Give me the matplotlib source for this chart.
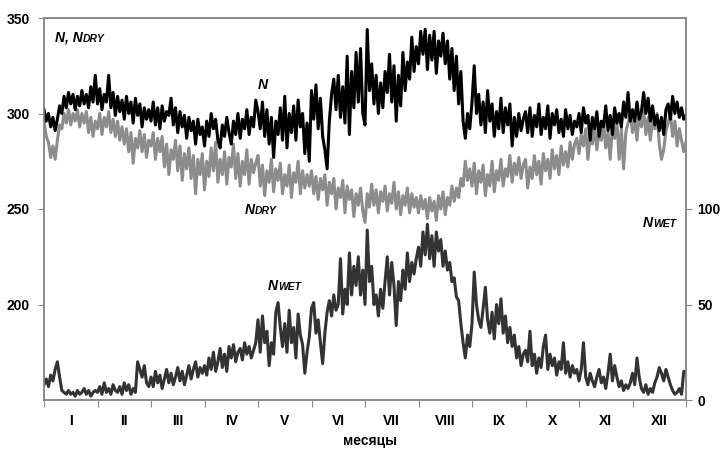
import matplotlib
matplotlib.use("Agg")
import matplotlib.pyplot as plt
import numpy as np

plt.rcParams['font.family'] = ['Liberation Sans', 'DejaVu Sans']
plt.rcParams['font.weight'] = 'bold'

# Roman month labels
months = ["I", "II", "III", "IV", "V", "VI", "VII", "VIII", "IX", "X", "XI", "XII"]

# N (total), left axis; 24 readings per month (Jan..Dec) + end point
n_total = [
    302, 296, 300, 293, 298, 291, 297, 304, 300, 309, 303, 311, 305, 310, 302, 309, 304, 312, 305, 310, 303, 314, 306, 320,
    305, 313, 302, 310, 306, 320, 303, 311, 299, 309, 301, 307, 297, 309, 300, 306, 295, 308, 299, 305, 293, 303, 297, 302,
    296, 306, 294, 303, 292, 304, 296, 301, 299, 308, 294, 303, 290, 301, 293, 299, 287, 298, 291, 296, 284, 297, 289, 293,
    283, 296, 288, 300, 292, 297, 286, 282, 294, 288, 298, 290, 284, 296, 289, 300, 287, 297, 292, 302, 289, 298, 293, 307,
    301, 292, 306, 288, 302, 284, 298, 277, 296, 289, 303, 286, 309, 282, 300, 290, 304, 286, 307, 293, 300, 279, 295, 275,
    312, 297, 315, 292, 308, 288, 281, 271, 296, 310, 318, 302, 320, 298, 314, 295, 330, 289, 322, 303, 332, 306, 334, 300,
    294, 344, 312, 326, 305, 320, 300, 316, 303, 322, 311, 331, 306, 325, 296, 320, 304, 332, 312, 327, 318, 340, 322, 335,
    326, 343, 331, 344, 323, 341, 328, 343, 321, 338, 330, 342, 326, 338, 318, 334, 312, 330, 305, 322, 296, 287, 300, 292,
    306, 325, 300, 310, 294, 306, 290, 312, 296, 305, 288, 301, 292, 308, 290, 303, 294, 305, 283, 298, 288, 300, 291, 297,
    301, 290, 303, 288, 299, 293, 305, 289, 298, 292, 304, 287, 300, 294, 302, 290, 297, 288, 302, 292, 299, 289, 296, 293,
    300, 290, 303, 295, 299, 286, 298, 292, 301, 288, 296, 293, 304, 291, 299, 289, 303, 295, 300, 293, 306, 298, 311, 296,
    302, 296, 306, 297, 301, 311, 300, 308, 296, 304, 294, 299, 291, 298, 289, 302, 305, 297, 309, 300, 306, 298, 303, 297,
    299,
]

# N dry, left axis
n_dry = [
    296, 288, 285, 277, 283, 276, 286, 294, 292, 300, 295, 302, 294, 300, 296, 302, 293, 300, 295, 301, 290, 298, 288, 296,
    292, 300, 289, 298, 293, 301, 290, 297, 288, 296, 286, 293, 284, 292, 280, 290, 274, 287, 282, 291, 280, 289, 277, 286,
    283, 290, 276, 287, 280, 288, 272, 284, 268, 281, 276, 286, 270, 283, 265, 279, 271, 282, 266, 278, 258, 276, 268, 279,
    260, 275, 267, 282, 270, 285, 264, 276, 268, 280, 263, 277, 272, 284, 266, 279, 262, 275, 268, 281, 263, 276, 269, 274,
    278, 262, 273, 257, 270, 264, 276, 259, 271, 265, 274, 258, 268, 262, 273, 256, 269, 264, 275, 258, 270, 261, 268, 262,
    270, 258, 267, 255, 266, 260, 268, 252, 264, 258, 266, 250, 261, 256, 265, 248, 262, 255, 260, 246, 258, 252, 261, 249,
    243, 258, 251, 263, 252, 260, 248, 259, 254, 262, 249, 258, 253, 264, 250, 259, 247, 257, 252, 261, 248, 258, 251, 256,
    248, 257, 250, 255, 245, 256, 249, 254, 244, 257, 250, 259, 247, 256, 252, 262, 254, 261, 256, 266, 262, 275, 265, 271,
    262, 274, 258, 270, 264, 273, 257, 268, 262, 275, 259, 270, 265, 276, 262, 271, 267, 278, 264, 274, 268, 277, 266, 273,
    276, 261, 272, 266, 278, 268, 275, 263, 279, 270, 276, 266, 281, 271, 278, 268, 283, 273, 280, 272, 285, 276, 284, 287,
    279, 289, 283, 292, 276, 288, 284, 293, 281, 291, 286, 295, 282, 290, 276, 294, 287, 296, 276, 292, 271, 290, 295, 300,
    290, 298, 286, 300, 293, 302, 289, 298, 286, 297, 292, 300, 284, 276, 281, 291, 295, 300, 288, 296, 283, 292, 286, 280,
    285,
]

# N wet, right axis
n_wet = [
    8, 11, 7, 13, 10, 16, 20, 12, 5, 4, 3, 5, 3, 4, 2, 5, 3, 4, 6, 3, 5, 2, 4, 5,
    4, 7, 3, 9, 4, 6, 3, 8, 5, 4, 7, 3, 9, 5, 8, 3, 6, 4, 20, 16, 12, 18, 9, 7,
    12, 7, 15, 9, 13, 6, 11, 16, 9, 14, 8, 12, 17, 10, 15, 8, 13, 18, 11, 16, 20, 12, 17, 14,
    18, 13, 22, 16, 25, 15, 20, 27, 17, 24, 15, 28, 22, 29, 20, 25, 27, 21, 30, 24, 28, 22, 26, 30,
    42, 25, 44, 30, 36, 18, 30, 24, 46, 51, 38, 28, 40, 25, 47, 30, 38, 22, 45, 34, 29, 14, 25, 33,
    48, 51, 35, 42, 30, 19, 35, 46, 52, 44, 55, 47, 50, 74, 45, 58, 50, 77, 55, 70, 60, 75, 55, 68,
    50, 89, 62, 70, 50, 55, 44, 58, 48, 62, 75, 55, 72, 60, 39, 62, 52, 68, 58, 77, 62, 72, 66, 74,
    80, 70, 88, 76, 92, 74, 86, 70, 88, 78, 84, 70, 78, 68, 72, 62, 64, 54, 52, 40, 30, 22, 34, 28,
    40, 67, 50, 42, 38, 48, 59, 42, 35, 46, 32, 50, 40, 53, 35, 44, 30, 38, 28, 34, 22, 28, 18, 24,
    26, 20, 36, 18, 24, 14, 22, 17, 28, 34, 16, 24, 18, 22, 13, 20, 16, 30, 14, 20, 12, 18, 14, 16,
    10, 16, 30, 12, 8, 14, 10, 7, 12, 16, 9, 12, 6, 14, 24, 10, 18, 12, 7, 10, 5, 8, 6, 9,
    14, 8, 22, 12, 6, 4, 8, 3, 6, 4, 9, 12, 17, 14, 10, 16, 12, 8, 5, 3, 4, 6, 3, 15,
    15,
]

x = np.linspace(0, len(months), len(n_total))

fig = plt.figure(figsize=(7.21, 4.54), dpi=100)
ax = fig.add_axes([44 / 721, 54 / 454, 642 / 721, 382 / 454])
ax2 = ax.twinx()

ax.plot(x, n_dry, color='#8c8c8c', lw=2.2, zorder=2)
ax.plot(x, n_total, color='black', lw=2.2, zorder=3)
ax2.plot(x, n_wet, color='#333333', lw=2.2)

ax.set_xlim(0, 12)
ax.set_ylim(150, 350)
ax2.set_ylim(0, 200)

ax.set_yticks([200, 250, 300, 350])
ax2.set_yticks([0, 50, 100])
ax.set_xticks(np.arange(13))
ax.set_xticklabels([])
ax.set_xticks(np.arange(12) + 0.5, minor=True)
ax.set_xticklabels(months, minor=True)
ax.tick_params(axis='x', which='major', length=5, direction='out', color='#888888')
ax.tick_params(axis='x', which='minor', length=0, pad=10, labelsize=10)
ax.tick_params(axis='y', length=4, color='#888888', labelsize=10, pad=6)
ax2.tick_params(axis='y', length=4, color='#888888', labelsize=10, pad=4)

for a in (ax, ax2):
    for s in a.spines.values():
        s.set_color('#8a8a8a')
        s.set_linewidth(1.2)

# series labels: italic N with small subscript-like caps
def label(xf, yf, sub=None, ha='left'):
    t = ax.text(xf, yf, 'N' if sub != 'top' else 'N, N', transform=ax.transAxes,
                fontsize=10, fontstyle='italic', fontweight='bold', va='center', ha=ha)
    if sub:
        ax.annotate('DRY' if sub == 'top' else sub, xy=(1, 0.05), xycoords=t,
                    fontsize=7.5, fontweight='bold', fontstyle='italic', va='bottom')

label(0.017, 0.948, 'top')
label(0.340, 0.825, ha='center')
label(0.313, 0.497, 'DRY')
label(0.349, 0.298, 'WET')
label(0.933, 0.463, 'WET')

fig.text(370 / 721, 1 - 441 / 454, 'месяцы', ha='center', va='center',
         fontsize=10, fontweight='bold')

plt.savefig('out.png', dpi=100)
